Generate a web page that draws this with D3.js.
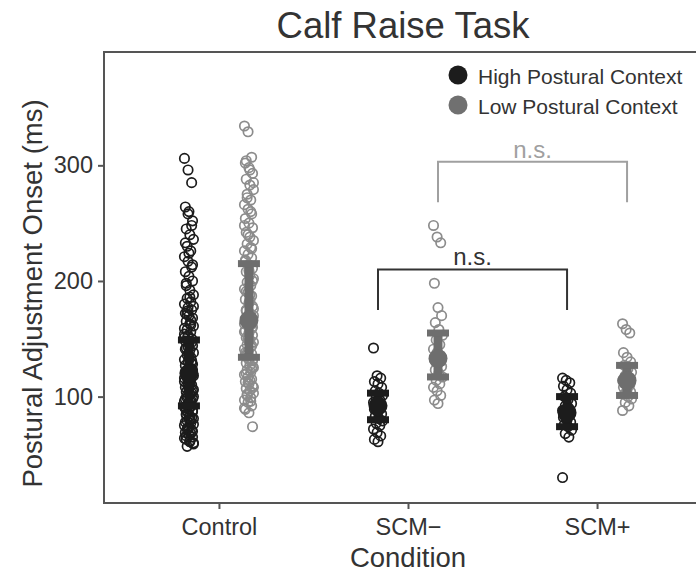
<!DOCTYPE html>
<html><head><meta charset="utf-8">
<script src="https://cdn.jsdelivr.net/npm/d3@7"></script>
<style>html,body{margin:0;padding:0;background:#fff;} svg{display:block;font-family:"Liberation Sans",Arial,Helvetica,sans-serif;}</style>
</head><body>
<svg id="chart" width="696" height="575"></svg>
<script>
// ---------- data ----------
const categories = ["Control", "SCM\u2212", "SCM+"];
const contexts = ["High Postural Context", "Low Postural Context"];
const yTicks = [100, 200, 300];

const controlHigh = [306,296,285,264,260,252,245,240,236,230,226,221,217,212,208,204,200,196,192,188,185,182,180,177,175,172,170,168,165,163,161,158,156,154,152,150,148,146,144,142,140,138,136,134,132,130,129,127,125,123,122,120,118,117,115,113,112,110,108,107,105,104,102,100,99,97,96,94,92,90,89,87,85,83,81,79,77,75,73,71,69,67,65,63,61,59,57,124,116,109,103,98,93,88,84,80,76,72,68,64,
  258,248,233,224,214,198,186,178,171,166,159,153,147,141,135,128,119,111,106,101,95,91,86,82,78,74,70,66,62,60,174,162,151,143,131,121,114,98,88,79];
const controlLow = [334,329,307,302,298,293,288,283,279,275,270,266,262,258,254,250,246,242,238,235,232,229,226,223,220,217,214,211,208,205,202,199,196,193,190,187,184,181,178,175,172,170,168,166,163,161,159,157,155,153,151,149,147,145,143,141,139,137,135,133,131,129,127,125,123,121,119,117,115,113,111,109,107,105,103,101,99,97,95,92,89,86,74,
  304,296,285,272,260,248,240,228,218,209,200,191,183,176,169,162,156,150,144,138,132,126,120,114,108,102,96,90,112,124,136,148,160,174,188];
const scmMinusHigh = [142,118,116,113,111,108,105,103,101,99,97,95,93,91,89,87,85,83,81,79,77,75,72,69,66,63,61];
const scmMinusLow = [248,238,233,198,177,170,164,158,153,149,145,141,138,135,132,129,126,123,120,117,114,111,108,105,101,97,94];
const scmPlusHigh = [116,114,112,109,106,103,100,97,94,92,90,88,86,84,82,80,78,76,74,71,68,65,30];
const scmPlusLow = [163,158,155,138,134,130,127,124,121,118,116,114,112,110,108,106,104,102,100,98,95,92,88];

const meanHigh = [120, 92, 86];
const lowerHigh = [92, 80, 74];
const upperHigh = [149, 103, 100];
const meanLow = [166, 133, 114];
const lowerLow = [134, 117, 101];
const upperLow = [215, 155, 127];

// significance brackets
const bracketFrom = [["SCM\u2212", 0], ["SCM\u2212", 1]];
const bracketTo = [["SCM+", 0], ["SCM+", 1]];
const bracketTop = [210, 303];
const bracketBottom = [175, 268];
const bracketLabel = ["n.s.", "n.s."];

// ---------- layout ----------
const svg = d3.select("#chart");
const L = 104, R = 712, T = 52, B = 503;
const x = d3.scalePoint().domain(categories).range([L, R]).padding(0.608);
const dodge = d3.scalePoint().domain(contexts).range([-30, 30]);
const y = d3.scaleLinear().domain([8, 398]).range([B, T]);

const colPoint = ["#1c1c1c", "#8c8c8c"];
const colMean = ["#1c1c1c", "#6e6e6e"];
const legendCol = ["#1c1c1c", "#707070"];
const axisCol = "#555";
const textCol = "#333";

// panel border
svg.append("rect").attr("x", L).attr("y", T).attr("width", R - L).attr("height", B - T)
  .attr("fill", "none").attr("stroke", axisCol).attr("stroke-width", 2);

// y axis
const yAxis = d3.axisLeft(y).tickValues(yTicks).tickSize(6).tickPadding(5);
const gy = svg.append("g").attr("transform", `translate(${L},0)`).call(yAxis);
gy.select(".domain").remove();
gy.selectAll("line").attr("stroke", axisCol).attr("stroke-width", 2);
gy.selectAll("text").attr("font-size", 23.5).attr("fill", textCol).attr("font-family", null);

// x axis
const xAxis = d3.axisBottom(x).tickSize(6).tickPadding(9);
const gx = svg.append("g").attr("transform", `translate(0,${B})`).call(xAxis);
gx.select(".domain").remove();
gx.selectAll("line").attr("stroke", axisCol).attr("stroke-width", 2);
gx.selectAll("text").attr("font-size", 23.5).attr("fill", textCol).attr("font-family", null);

// titles
svg.append("text").attr("x", 403).attr("y", 38).attr("text-anchor", "middle")
  .attr("font-size", 36.5).attr("fill", textCol).text("Calf Raise Task");
svg.append("text").attr("x", 408).attr("y", 567).attr("text-anchor", "middle")
  .attr("font-size", 27.5).attr("fill", textCol).text("Condition");
svg.append("text").attr("transform", `translate(42,${(T + B) / 2 + 16}) rotate(-90)`)
  .attr("text-anchor", "middle").attr("font-size", 27.5).attr("fill", textCol)
  .text("Postural Adjustment Onset (ms)");

// points
const groups = [
  [categories[0], 0, controlHigh], [categories[0], 1, controlLow],
  [categories[1], 0, scmMinusHigh], [categories[1], 1, scmMinusLow],
  [categories[2], 0, scmPlusHigh], [categories[2], 1, scmPlusLow]
];
const pts = svg.append("g");
groups.forEach(([cat, ci, vals]) => {
  const cx = x(cat) + dodge(contexts[ci]);
  pts.selectAll(null).data(vals).enter().append("circle")
    .attr("cx", (d, i) => cx + (((i * 37) % 11) - 5) * 0.9)
    .attr("cy", d => y(d))
    .attr("r", 4.7)
    .attr("fill", "none")
    .attr("stroke", colPoint[ci])
    .attr("stroke-width", 1.7);
});

// means and error bars
const sumG = svg.append("g");
[[meanHigh, lowerHigh, upperHigh], [meanLow, lowerLow, upperLow]].forEach(([m, lo, hi], ci) => {
  categories.forEach((cat, k) => {
    const cx = x(cat) + dodge(contexts[ci]);
    const c = colMean[ci];
    sumG.append("line").attr("x1", cx).attr("x2", cx).attr("y1", y(lo[k])).attr("y2", y(hi[k]))
      .attr("stroke", c).attr("stroke-width", 9);
    [lo[k], hi[k]].forEach(v => {
      sumG.append("line").attr("x1", cx - 11).attr("x2", cx + 11).attr("y1", y(v)).attr("y2", y(v))
        .attr("stroke", c).attr("stroke-width", 7);
    });
    sumG.append("circle").attr("cx", cx).attr("cy", y(m[k])).attr("r", 9.5).attr("fill", c);
  });
});

// brackets
const brCol = ["#333", "#a0a0a0"];
bracketFrom.forEach((f, i) => {
  const t = bracketTo[i];
  const x1 = x(f[0]) + dodge(contexts[f[1]]);
  const x2 = x(t[0]) + dodge(contexts[t[1]]);
  const yt = y(bracketTop[i]), yb = y(bracketBottom[i]);
  svg.append("path").attr("d", `M${x1},${yb}V${yt}H${x2}V${yb}`)
    .attr("fill", "none").attr("stroke", brCol[i]).attr("stroke-width", 2);
  svg.append("text").attr("x", (x1 + x2) / 2).attr("y", yt - 4).attr("text-anchor", "middle")
    .attr("font-size", 24).attr("fill", brCol[i]).text(bracketLabel[i]);
});

// legend
const lg = svg.append("g");
contexts.forEach((c, i) => {
  const ly = 75 + i * 30;
  lg.append("circle").attr("cx", 458).attr("cy", ly).attr("r", 9.5).attr("fill", legendCol[i]);
  lg.append("text").attr("x", 478).attr("y", ly + 3).attr("dominant-baseline", "middle")
    .attr("font-size", 21).attr("fill", textCol).text(c);
});
</script>
</body></html>
